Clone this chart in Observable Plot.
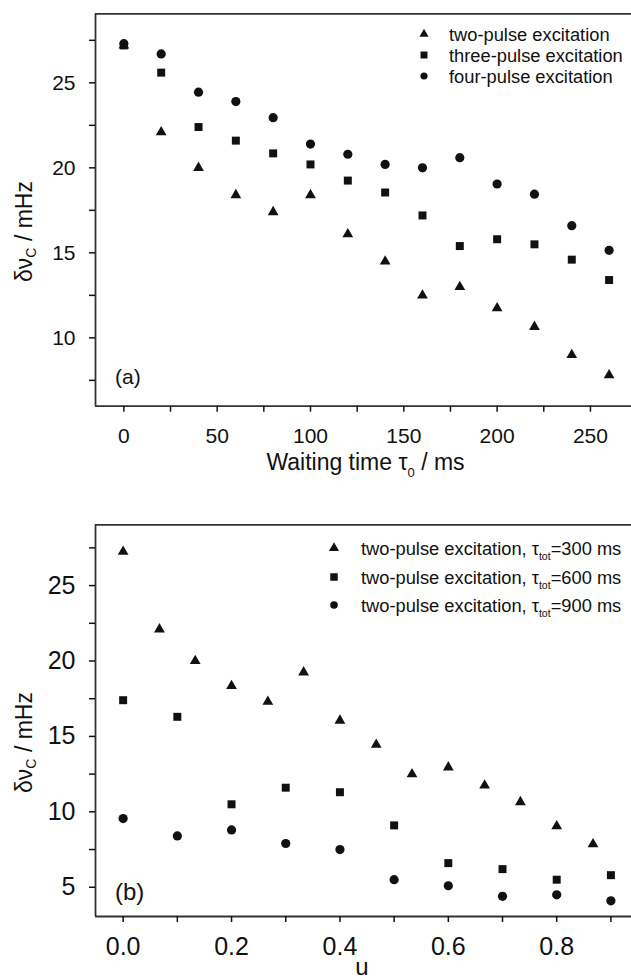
<!DOCTYPE html>
<html>
<head>
<meta charset="utf-8">
<script src="https://cdn.jsdelivr.net/npm/d3@7"></script>
<script src="https://cdn.jsdelivr.net/npm/@observablehq/plot@0.6"></script>
<style>
  html, body { margin: 0; padding: 0; background: #fff; }
  #chart svg { display: block; }
</style>
</head>
<body>
<div id="chart"></div>
<script>
// ---------- Panel (a): delta nu_C vs waiting time tau0 ----------
const tau0 = [0, 20, 40, 60, 80, 100, 120, 140, 160, 180, 200, 220, 240, 260];
const twoPulse   = [27.2, 22.1, 20.0, 18.4, 17.4, 18.4, 16.1, 14.5, 12.5, 13.0, 11.75, 10.65, 9.0, 7.8];
const threePulse = [27.2, 25.6, 22.4, 21.6, 20.85, 20.2, 19.25, 18.55, 17.2, 15.4, 15.8, 15.5, 14.6, 13.4];
const fourPulse  = [27.3, 26.7, 24.45, 23.9, 22.95, 21.4, 20.8, 20.2, 20.0, 20.6, 19.05, 18.45, 16.6, 15.15];
const seriesA = ["two-pulse excitation", "three-pulse excitation", "four-pulse excitation"];
const xTicksA = [0, 50, 100, 150, 200, 250];
const xMinorA = [25, 75, 125, 175, 225];
const yTicksA = [10, 15, 20, 25];
const yMinorA = [7.5, 12.5, 17.5, 22.5, 27.5];

// ---------- Panel (b): delta nu_C vs u ----------
const u300 = [0, 0.067, 0.133, 0.2, 0.267, 0.333, 0.4, 0.467, 0.533, 0.6, 0.667, 0.733, 0.8, 0.867];
const tot300 = [27.25, 22.1, 20.0, 18.35, 17.3, 19.25, 16.05, 14.45, 12.5, 12.95, 11.75, 10.65, 9.05, 7.85];
const u600 = [0, 0.1, 0.2, 0.3, 0.4, 0.5, 0.6, 0.7, 0.8, 0.9];
const tot600 = [17.4, 16.3, 10.5, 11.6, 11.3, 9.1, 6.6, 6.2, 5.5, 5.8];
const u900 = [0, 0.1, 0.2, 0.3, 0.4, 0.5, 0.6, 0.7, 0.8, 0.9];
const tot900 = [9.55, 8.4, 8.8, 7.9, 7.5, 5.5, 5.1, 4.4, 4.5, 4.1];
const tauTot = ["300", "600", "900"];
const xTicksB = [0.0, 0.2, 0.4, 0.6, 0.8];
const xMinorB = [0.1, 0.3, 0.5, 0.7, 0.9];
const yTicksB = [5, 10, 15, 20, 25];
const yMinorB = [7.5, 12.5, 17.5, 22.5, 27.5];

const symbols = ["triangle", "square", "circle"];
const symbolR = {triangle: 4.0, square: 4.5, circle: 4.6};
const FONT = "'Liberation Sans', Arial, Helvetica, sans-serif";
const INK = "#111";
const FRAME = "#333";

function rows(xs, ys) { return xs.map((x, i) => ({x, y: ys[i]})); }

function panel(cfg) {
  const marks = [
    Plot.ruleY([cfg.yDomain[0]], {stroke: FRAME, strokeWidth: 1.8}),
    Plot.ruleY([cfg.yDomain[1]], {stroke: FRAME, strokeWidth: 1.8}),
    Plot.ruleX([cfg.xDomain[0]], {stroke: FRAME, strokeWidth: 1.8}),
    Plot.axisY(cfg.yTicks, {tickSize: 6, tickPadding: 14, fontSize: cfg.tickFont, label: null, strokeWidth: 1.5, tickFormat: d3.format("d")}),
    Plot.axisY(cfg.yMinor, {tickSize: 6, label: null, strokeWidth: 1.5, tickFormat: () => ""}),
    Plot.axisX(cfg.xTicks, {tickSize: 6, tickPadding: cfg.xPad, fontSize: cfg.tickFont, label: null, strokeWidth: 1.5, tickFormat: cfg.xFormat}),
    Plot.axisX(cfg.xMinor, {tickSize: 6, label: null, strokeWidth: 1.5, tickFormat: () => ""})
  ];
  cfg.series.forEach((s, i) => {
    marks.push(Plot.dot(rows(s.x, s.y), {x: "x", y: "y", symbol: symbols[i], r: symbolR[symbols[i]], fill: INK, stroke: "none"}));
  });
  const svg = Plot.plot({
    width: 631, height: cfg.height,
    marginLeft: 95, marginRight: 0, marginTop: cfg.mt, marginBottom: cfg.mb,
    style: {fontFamily: FONT, background: "white", color: INK, overflow: "visible"},
    x: {domain: cfg.xDomain, label: null},
    y: {domain: cfg.yDomain, label: null},
    marks
  });
  return svg;
}

function addText(sel, {x, y, size, anchor = "middle", rotate = 0, parts}) {
  const t = sel.append("text")
    .attr("text-anchor", anchor)
    .attr("font-family", FONT)
    .attr("font-size", size)
    .attr("fill", INK)
    .attr("transform", `translate(${x},${y}) rotate(${rotate})`);
  let shift = 0;
  parts.forEach(p => {
    const target = p.sub ? p.shift : 0;
    const ts = t.append("tspan").text(p.t).attr("dy", target - shift);
    if (p.sub) ts.attr("font-size", p.size);
    shift = target;
  });
  return t;
}

function legend(sel, {x, tx, ys, size, labels, symSize}) {
  labels.forEach((lab, i) => {
    const type = {triangle: d3.symbolTriangle, square: d3.symbolSquare, circle: d3.symbolCircle}[symbols[i]];
    sel.append("path")
      .attr("d", d3.symbol().type(type).size(symSize[symbols[i]])())
      .attr("transform", `translate(${x},${ys[i]})`)
      .attr("fill", INK);
    addText(sel, {x: tx, y: ys[i] + size * 0.36, size, anchor: "start", parts: lab});
  });
}

const root = document.getElementById("chart");

// Panel (a)
const svgA = panel({
  height: 480, mt: 13.3, mb: 74.3,
  xDomain: [-15.2, 272], yDomain: [5.98, 29.06],
  xTicks: xTicksA, xMinor: xMinorA, yTicks: yTicksA, yMinor: yMinorA,
  xFormat: d3.format("d"), tickFont: 21, xPad: 16,
  series: [{x: tau0, y: twoPulse}, {x: tau0, y: threePulse}, {x: tau0, y: fourPulse}]
});
root.appendChild(svgA);
const a = d3.select(svgA);
addText(a, {x: 32, y: 231.5, size: 23, rotate: -90, parts: [
  {t: "\u03B4\u03BD"}, {t: "C", sub: true, size: 14, shift: 4}, {t: " / mHz"}]});
addText(a, {x: 365.5, y: 470, size: 23, parts: [
  {t: "Waiting time \u03C4"}, {t: "0", sub: true, size: 13, shift: 7}, {t: " / ms"}]});
addText(a, {x: 115, y: 384, size: 21, anchor: "start", parts: [{t: "(a)"}]});
legend(a, {x: 424, tx: 449, ys: [34, 55, 76], size: 18.3,
  symSize: {triangle: 36, square: 48, circle: 40},
  labels: seriesA.map(s => [{t: s}])});

// Panel (b)
const svgB = panel({
  height: 500, mt: 44.3, mb: 64,
  xDomain: [-0.051, 0.938], yDomain: [3.06, 29.03],
  xTicks: xTicksB, xMinor: xMinorB, yTicks: yTicksB, yMinor: yMinorB,
  xFormat: d3.format(".1f"), tickFont: 25, xPad: 15,
  series: [{x: u300, y: tot300}, {x: u600, y: tot600}, {x: u900, y: tot900}]
});
root.appendChild(svgB);
const b = d3.select(svgB);
addText(b, {x: 32, y: 262.5, size: 23, rotate: -90, parts: [
  {t: "\u03B4\u03BD"}, {t: "C", sub: true, size: 14, shift: 4}, {t: " / mHz"}]});
addText(b, {x: 362, y: 495, size: 24, parts: [{t: "u"}]});
addText(b, {x: 115, y: 420, size: 24, anchor: "start", parts: [{t: "(b)"}]});
legend(b, {x: 334, tx: 361, ys: [68, 97, 125], size: 18.3,
  symSize: {triangle: 44, square: 56, circle: 46},
  labels: tauTot.map(v => [
    {t: "two-pulse excitation, \u03C4"},
    {t: "tot", sub: true, size: 10.5, shift: 5},
    {t: "=" + v + " ms"}
  ])});
</script>
</body>
</html>
